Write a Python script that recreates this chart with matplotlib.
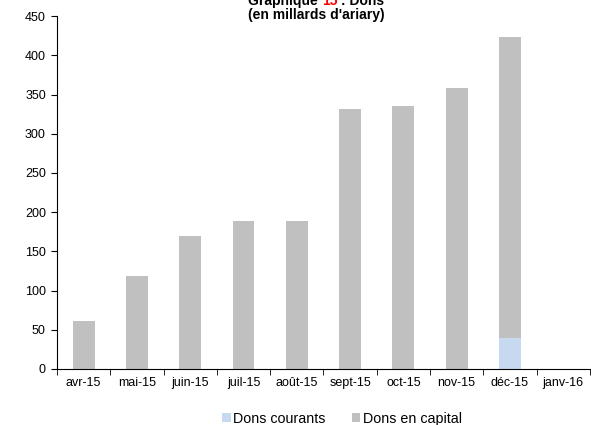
import matplotlib
matplotlib.use("Agg")
import matplotlib.pyplot as plt
import numpy as np

months = ["avr-15", "mai-15", "juin-15", "juil-15", "août-15", "sept-15",
          "oct-15", "nov-15", "déc-15", "janv-16"]
dons_courants = [0, 0, 0, 0, 0, 0, 0, 0, 40, 0]
dons_capital = [61, 118, 170, 189, 189, 332, 335, 358, 384, 0]

plt.rcParams["font.family"] = ["Liberation Sans", "DejaVu Sans"]
plt.rcParams["font.size"] = 9

fig = plt.figure(figsize=(5.91, 4.25), dpi=100)
ax = fig.add_axes([0.0964, 0.1318, 0.9016, 0.8302])

x = np.arange(len(months))
w = 0.41
ax.bar(x, dons_courants, w, color="#c6d9f1", label="Dons courants")
ax.bar(x, dons_capital, w, bottom=dons_courants, color="#c0c0c0",
       label="Dons en capital")

ax.set_xlim(-0.5, len(months) - 0.5)
ax.set_ylim(0, 450)
ax.set_yticks(range(0, 451, 50))
ax.set_xticks(x)
ax.set_xticklabels(months)
ax.set_xticks(np.arange(-0.5, len(months), 1.0), minor=True)
ax.tick_params(axis="x", which="major", length=0, pad=6)
ax.tick_params(axis="x", which="minor", length=4, direction="out")
ax.tick_params(axis="y", length=4, direction="out", pad=4)
for s in ["top", "right"]:
    ax.spines[s].set_visible(False)

ax.legend(loc="upper center", bbox_to_anchor=(0.535, -0.085), ncol=2,
          frameon=False, fontsize=10.3, handlelength=0.6, handleheight=0.6,
          handletextpad=0.2, columnspacing=1.8)

# title, first line partly cut off at the top, with the number in red
fig.text(0.535, 0.965, "(en millards d'ariary)", ha="center", va="center",
         fontsize=10, fontweight="bold")
r = fig.canvas.get_renderer()
parts = [("Graphique ", "black"), ("15", "red"), (" : Dons", "black")]
texts = [fig.text(0, 0.998, p, fontsize=10, fontweight="bold", color=c,
                  va="center") for p, c in parts]
widths = [t.get_window_extent(r).width / fig.bbox.width for t in texts]
xpos = 0.535 - sum(widths) / 2
for t, wd in zip(texts, widths):
    t.set_x(xpos)
    xpos += wd

fig.savefig("out.png", dpi=100)
